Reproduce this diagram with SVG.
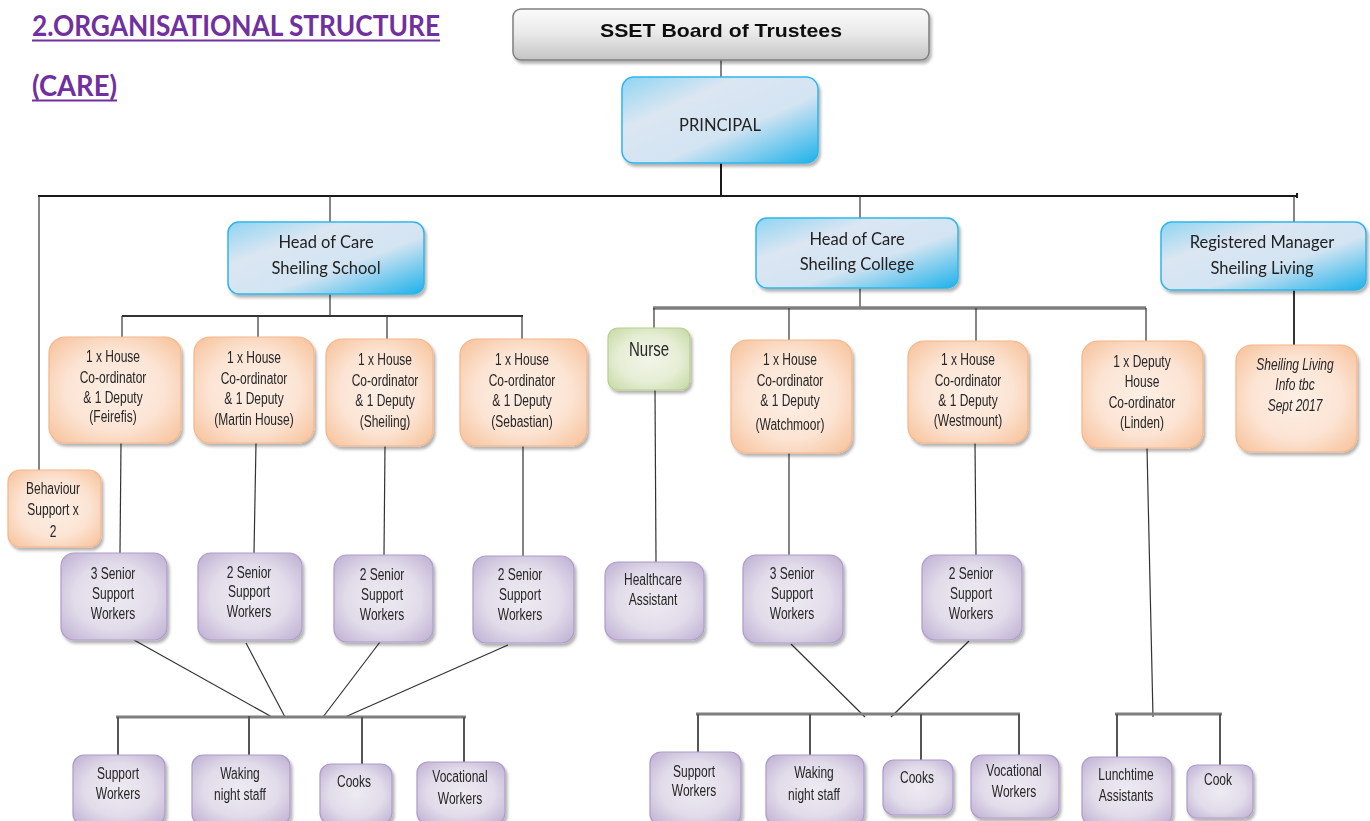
<svg xmlns="http://www.w3.org/2000/svg" width="1370" height="821" viewBox="0 0 1370 821">
<defs>
<linearGradient id="gBlue" x1="0" y1="0" x2="1" y2="1">
<stop offset="0" stop-color="#8fd4f2"/>
<stop offset="0.3" stop-color="#dbe6f2"/>
<stop offset="0.6" stop-color="#d3e4f2"/>
<stop offset="1" stop-color="#1db1ea"/>
</linearGradient>
<linearGradient id="gGray" x1="0" y1="0" x2="0" y2="1">
<stop offset="0" stop-color="#fbfbfb"/>
<stop offset="0.5" stop-color="#e8e8e8"/>
<stop offset="1" stop-color="#c4c4c4"/>
</linearGradient>
<radialGradient id="gOrange" cx="0.5" cy="0.5" r="0.75">
<stop offset="0" stop-color="#fdefe5"/>
<stop offset="0.5" stop-color="#fce4d4"/>
<stop offset="1" stop-color="#f6bb8f"/>
</radialGradient>
<radialGradient id="gPurple" cx="0.5" cy="0.5" r="0.75">
<stop offset="0" stop-color="#eeebf2"/>
<stop offset="0.5" stop-color="#e2dcea"/>
<stop offset="1" stop-color="#b8a8cf"/>
</radialGradient>
<radialGradient id="gGreen" cx="0.5" cy="0.5" r="0.75">
<stop offset="0" stop-color="#f1f5e8"/>
<stop offset="0.5" stop-color="#e6eed6"/>
<stop offset="1" stop-color="#c0d59a"/>
</radialGradient>
<filter id="sh" x="-10%" y="-10%" width="125%" height="125%">
<feDropShadow dx="2" dy="3" stdDeviation="1.5" flood-color="#000" flood-opacity="0.3"/>
</filter>
</defs>
<style>
.box{filter:url(#sh);}
.blue{fill:url(#gBlue);stroke:#2cb6ec;stroke-width:1.5;}
.gray{fill:url(#gGray);stroke:#7f7f7f;stroke-width:1.5;}
.orange{fill:url(#gOrange);stroke:#f4b68a;stroke-width:1.2;}
.purple{fill:url(#gPurple);stroke:#ad9ccb;stroke-width:1.2;}
.green{fill:url(#gGreen);stroke:#b7cf8e;stroke-width:1.2;}
.cal{font-family:Lato,"Open Sans","Liberation Sans",sans-serif;font-size:16.5px;fill:#222;text-anchor:middle;}
.nar{font-family:"Liberation Sans",Arial,sans-serif;font-size:16px;fill:#262626;text-anchor:middle;}
.it{font-style:italic;}
.title{font-family:Lato,"Liberation Sans",sans-serif;font-weight:bold;font-size:29px;fill:#7030a0;}
.blk{stroke:#1a1a1a;stroke-width:2;fill:none;}
.thin{stroke:#333;stroke-width:1.2;fill:none;}
.gbar{stroke:#7f7f7f;stroke-width:3;fill:none;}
.gv{stroke:#555;stroke-width:2;fill:none;}
</style>
<rect width="1370" height="821" fill="#ffffff"/>

<g id="title">
<text class="title" x="32" y="36" textLength="408" lengthAdjust="spacingAndGlyphs">2.ORGANISATIONAL STRUCTURE</text>
<line x1="32" y1="40.5" x2="440" y2="40.5" stroke="#7030a0" stroke-width="2"/>
<text class="title" x="32" y="96" textLength="85" lengthAdjust="spacingAndGlyphs">(CARE)</text>
<line x1="32" y1="100.5" x2="117" y2="100.5" stroke="#7030a0" stroke-width="2"/>
</g>

<g id="connectors">
<line class="thin" x1="721" y1="60" x2="721" y2="77"/>
<line class="blk" x1="721" y1="163" x2="721" y2="196"/>
<line class="blk" x1="38" y1="196" x2="1298" y2="196"/>
<line class="blk" x1="1297" y1="193" x2="1297" y2="198"/>
<line class="thin" x1="39" y1="196" x2="39" y2="470"/>
<line class="thin" x1="330" y1="196" x2="330" y2="222"/>
<line class="thin" x1="860" y1="196" x2="860" y2="218"/>
<line class="thin" x1="1294" y1="196" x2="1294" y2="222"/>
<line class="thin" x1="330" y1="294" x2="330" y2="316"/>
<line class="thin" x1="122" y1="316" x2="523" y2="316" style="stroke-width:2"/>
<line class="thin" x1="122" y1="316" x2="122" y2="337"/>
<line class="thin" x1="258" y1="316" x2="258" y2="337"/>
<line class="thin" x1="387" y1="316" x2="387" y2="339"/>
<line class="thin" x1="522" y1="316" x2="522" y2="339"/>
<line class="thin" x1="121" y1="443" x2="120" y2="553"/>
<line class="thin" x1="256" y1="443" x2="254" y2="553"/>
<line class="thin" x1="385" y1="446" x2="384" y2="555"/>
<line class="thin" x1="523" y1="446" x2="523" y2="556"/>
<line class="thin" x1="134" y1="640" x2="272" y2="717"/>
<line class="thin" x1="246" y1="643" x2="285" y2="717"/>
<line class="thin" x1="380" y1="642" x2="323" y2="717"/>
<line class="thin" x1="508" y1="645" x2="345" y2="717"/>
<line class="gbar" x1="116" y1="717" x2="466" y2="717"/>
<line class="gv" x1="118" y1="717" x2="118" y2="757"/>
<line class="gv" x1="249" y1="716" x2="249" y2="757"/>
<line class="gv" x1="362" y1="717" x2="362" y2="765"/>
<line class="gv" x1="464" y1="717" x2="464" y2="762"/>
<line class="thin" x1="860" y1="288" x2="860" y2="308"/>
<line class="gbar" x1="653" y1="308" x2="1146" y2="308" style="stroke-width:3.5"/>
<line class="thin" x1="654" y1="308" x2="654" y2="328"/>
<line class="thin" x1="789" y1="308" x2="789" y2="340"/>
<line class="thin" x1="976" y1="308" x2="976" y2="341"/>
<line class="thin" x1="1146" y1="308" x2="1146" y2="341"/>
<line class="thin" x1="655" y1="390" x2="656" y2="562"/>
<line class="thin" x1="789" y1="453" x2="789" y2="555"/>
<line class="thin" x1="975" y1="443" x2="976" y2="555"/>
<line class="thin" x1="1147" y1="448" x2="1153" y2="717"/>
<line class="thin" x1="791" y1="644" x2="865" y2="717"/>
<line class="thin" x1="969" y1="641" x2="891" y2="717"/>
<line class="gbar" x1="696" y1="714" x2="1020" y2="714"/>
<line class="gv" x1="698" y1="714" x2="698" y2="752"/>
<line class="gv" x1="810" y1="714" x2="810" y2="755"/>
<line class="gv" x1="921" y1="714" x2="921" y2="760"/>
<line class="gv" x1="1019" y1="714" x2="1019" y2="755"/>
<line class="gbar" x1="1115" y1="714" x2="1222" y2="714"/>
<line class="gv" x1="1117" y1="714" x2="1117" y2="758"/>
<line class="gv" x1="1220" y1="714" x2="1220" y2="766"/>
<line class="thin" x1="1294" y1="290" x2="1294" y2="345" style="stroke-width:2"/>
</g>

<g id="board" class="box"><rect class="gray" x="513" y="9" width="416" height="51" rx="8"/>
<text x="721" y="37" font-family="'Liberation Sans',Arial,sans-serif" font-weight="bold" font-size="19" fill="#111" text-anchor="middle" textLength="242" lengthAdjust="spacingAndGlyphs">SSET Board of Trustees</text></g>

<g id="principal" class="box"><rect class="blue" x="622" y="77" width="196" height="86" rx="12"/>
<text class="cal" x="720" y="131">PRINCIPAL</text></g>

<g id="head-school" class="box"><rect class="blue" x="228" y="222" width="196" height="72" rx="11"/>
<text class="cal" x="326" y="248">Head of Care</text><text class="cal" x="326" y="274">Sheiling School</text></g>

<g id="head-college" class="box"><rect class="blue" x="756" y="218" width="202" height="70" rx="11"/>
<text class="cal" x="857" y="245">Head of Care</text><text class="cal" x="857" y="270">Sheiling College</text></g>

<g id="reg-manager" class="box"><rect class="blue" x="1161" y="222" width="205" height="68" rx="11"/>
<text class="cal" x="1262" y="248">Registered Manager</text><text class="cal" x="1262" y="274">Sheiling Living</text></g>

<g id="hc-feirefis" class="box"><rect class="orange" x="49" y="337" width="132" height="106" rx="16"/>
<g transform="matrix(0.75 0 0 1 28.25 0)"><text class="nar" x="113" y="362">1 x House</text><text class="nar" x="113" y="383">Co-ordinator</text><text class="nar" x="113" y="403">&amp; 1 Deputy</text><text class="nar" x="113" y="422">(Feirefis)</text></g></g>

<g id="hc-martin" class="box"><rect class="orange" x="194" y="337" width="120" height="106" rx="16"/>
<g transform="matrix(0.75 0 0 1 63.5 0)"><text class="nar" x="254" y="363">1 x House</text><text class="nar" x="254" y="384">Co-ordinator</text><text class="nar" x="254" y="404">&amp; 1 Deputy</text><text class="nar" x="254" y="425">(Martin House)</text></g></g>

<g id="hc-sheiling" class="box"><rect class="orange" x="326" y="339" width="107" height="107" rx="16"/>
<g transform="matrix(0.75 0 0 1 96.25 0)"><text class="nar" x="385" y="365">1 x House</text><text class="nar" x="385" y="386">Co-ordinator</text><text class="nar" x="385" y="406">&amp; 1 Deputy</text><text class="nar" x="385" y="427">(Sheiling)</text></g></g>

<g id="hc-sebastian" class="box"><rect class="orange" x="460" y="339" width="127" height="107" rx="16"/>
<g transform="matrix(0.75 0 0 1 130.5 0)"><text class="nar" x="522" y="365">1 x House</text><text class="nar" x="522" y="386">Co-ordinator</text><text class="nar" x="522" y="406">&amp; 1 Deputy</text><text class="nar" x="522" y="427">(Sebastian)</text></g></g>

<g id="behaviour" class="box"><rect class="orange" x="8" y="470" width="93" height="77" rx="12"/>
<g transform="matrix(0.75 0 0 1 13.25 0)"><text class="nar" x="53" y="494">Behaviour</text><text class="nar" x="53" y="515">Support x</text><text class="nar" x="53" y="537">2</text></g></g>

<g id="ssw-1" class="box"><rect class="purple" x="61" y="553" width="106" height="87" rx="13"/>
<g transform="matrix(0.75 0 0 1 28.25 0)"><text class="nar" x="113" y="579">3 Senior</text><text class="nar" x="113" y="599">Support</text><text class="nar" x="113" y="619">Workers</text></g></g>
<g id="ssw-2" class="box"><rect class="purple" x="198" y="553" width="104" height="87" rx="13"/>
<g transform="matrix(0.75 0 0 1 62.25 0)"><text class="nar" x="249" y="578">2 Senior</text><text class="nar" x="249" y="597">Support</text><text class="nar" x="249" y="617">Workers</text></g></g>
<g id="ssw-3" class="box"><rect class="purple" x="334" y="555" width="99" height="87" rx="13"/>
<g transform="matrix(0.75 0 0 1 95.5 0)"><text class="nar" x="382" y="580">2 Senior</text><text class="nar" x="382" y="600">Support</text><text class="nar" x="382" y="620">Workers</text></g></g>
<g id="ssw-4" class="box"><rect class="purple" x="473" y="556" width="101" height="87" rx="13"/>
<g transform="matrix(0.75 0 0 1 130 0)"><text class="nar" x="520" y="580">2 Senior</text><text class="nar" x="520" y="600">Support</text><text class="nar" x="520" y="620">Workers</text></g></g>

<g id="s-support" class="box"><rect class="purple" x="73" y="755" width="92" height="70" rx="11"/>
<g transform="matrix(0.75 0 0 1 29.5 0)"><text class="nar" x="118" y="779">Support</text><text class="nar" x="118" y="799">Workers</text></g></g>
<g id="s-waking" class="box"><rect class="purple" x="192" y="755" width="98" height="70" rx="11"/>
<g transform="matrix(0.75 0 0 1 60 0)"><text class="nar" x="240" y="779">Waking</text><text class="nar" x="240" y="800">night staff</text></g></g>
<g id="s-cooks" class="box"><rect class="purple" x="320" y="764" width="72" height="60" rx="11"/>
<g transform="matrix(0.75 0 0 1 88.5 0)"><text class="nar" x="354" y="787">Cooks</text></g></g>
<g id="s-vocational" class="box"><rect class="purple" x="417" y="762" width="88" height="62" rx="11"/>
<g transform="matrix(0.75 0 0 1 115 0)"><text class="nar" x="460" y="782">Vocational</text><text class="nar" x="460" y="804">Workers</text></g></g>

<g id="nurse" class="box"><rect class="green" x="608" y="328" width="82" height="62" rx="10"/>
<g transform="matrix(0.75 0 0 1 162.25 0)"><text class="nar" x="649" y="356" style="font-size:20px">Nurse</text></g></g>
<g id="healthcare" class="box"><rect class="purple" x="605" y="562" width="99" height="78" rx="13"/>
<g transform="matrix(0.75 0 0 1 163.25 0)"><text class="nar" x="653" y="585">Healthcare</text><text class="nar" x="653" y="605">Assistant</text></g></g>

<g id="hc-watchmoor" class="box"><rect class="orange" x="731" y="340" width="121" height="113" rx="16"/>
<g transform="matrix(0.75 0 0 1 197.5 0)"><text class="nar" x="790" y="365">1 x House</text><text class="nar" x="790" y="386">Co-ordinator</text><text class="nar" x="790" y="406">&amp; 1 Deputy</text><text class="nar" x="790" y="430">(Watchmoor)</text></g></g>
<g id="hc-westmount" class="box"><rect class="orange" x="908" y="341" width="120" height="102" rx="16"/>
<g transform="matrix(0.75 0 0 1 242 0)"><text class="nar" x="968" y="365">1 x House</text><text class="nar" x="968" y="386">Co-ordinator</text><text class="nar" x="968" y="406">&amp; 1 Deputy</text><text class="nar" x="968" y="426">(Westmount)</text></g></g>
<g id="hc-linden" class="box"><rect class="orange" x="1082" y="341" width="121" height="107" rx="16"/>
<g transform="matrix(0.75 0 0 1 285.5 0)"><text class="nar" x="1142" y="367">1 x Deputy</text><text class="nar" x="1142" y="387">House</text><text class="nar" x="1142" y="408">Co-ordinator</text><text class="nar" x="1142" y="428">(Linden)</text></g></g>
<g id="living-info" class="box"><rect class="orange" x="1236" y="345" width="121" height="107" rx="16"/>
<g transform="matrix(0.75 0 0 1 323.75 0)"><text class="nar it" x="1295" y="370">Sheiling Living</text><text class="nar it" x="1295" y="390">Info tbc</text><text class="nar it" x="1295" y="411">Sept 2017</text></g></g>

<g id="css-1" class="box"><rect class="purple" x="743" y="555" width="100" height="88" rx="13"/>
<g transform="matrix(0.75 0 0 1 198 0)"><text class="nar" x="792" y="579">3 Senior</text><text class="nar" x="792" y="599">Support</text><text class="nar" x="792" y="619">Workers</text></g></g>
<g id="css-2" class="box"><rect class="purple" x="922" y="555" width="100" height="85" rx="13"/>
<g transform="matrix(0.75 0 0 1 242.75 0)"><text class="nar" x="971" y="579">2 Senior</text><text class="nar" x="971" y="599">Support</text><text class="nar" x="971" y="619">Workers</text></g></g>

<g id="c-support" class="box"><rect class="purple" x="650" y="752" width="91" height="73" rx="11"/>
<g transform="matrix(0.75 0 0 1 173.5 0)"><text class="nar" x="694" y="777">Support</text><text class="nar" x="694" y="796">Workers</text></g></g>
<g id="c-waking" class="box"><rect class="purple" x="766" y="755" width="98" height="70" rx="11"/>
<g transform="matrix(0.75 0 0 1 203.5 0)"><text class="nar" x="814" y="778">Waking</text><text class="nar" x="814" y="800">night staff</text></g></g>
<g id="c-cooks" class="box"><rect class="purple" x="883" y="760" width="70" height="55" rx="11"/>
<g transform="matrix(0.75 0 0 1 229.25 0)"><text class="nar" x="917" y="783">Cooks</text></g></g>
<g id="c-vocational" class="box"><rect class="purple" x="971" y="755" width="88" height="63" rx="11"/>
<g transform="matrix(0.75 0 0 1 253.5 0)"><text class="nar" x="1014" y="776">Vocational</text><text class="nar" x="1014" y="797">Workers</text></g></g>
<g id="lunchtime" class="box"><rect class="purple" x="1082" y="757" width="90" height="68" rx="11"/>
<g transform="matrix(0.75 0 0 1 281.5 0)"><text class="nar" x="1126" y="780">Lunchtime</text><text class="nar" x="1126" y="801">Assistants</text></g></g>
<g id="cook" class="box"><rect class="purple" x="1187" y="765" width="66" height="53" rx="10"/>
<g transform="matrix(0.75 0 0 1 304.5 0)"><text class="nar" x="1218" y="785">Cook</text></g></g>
</svg>
